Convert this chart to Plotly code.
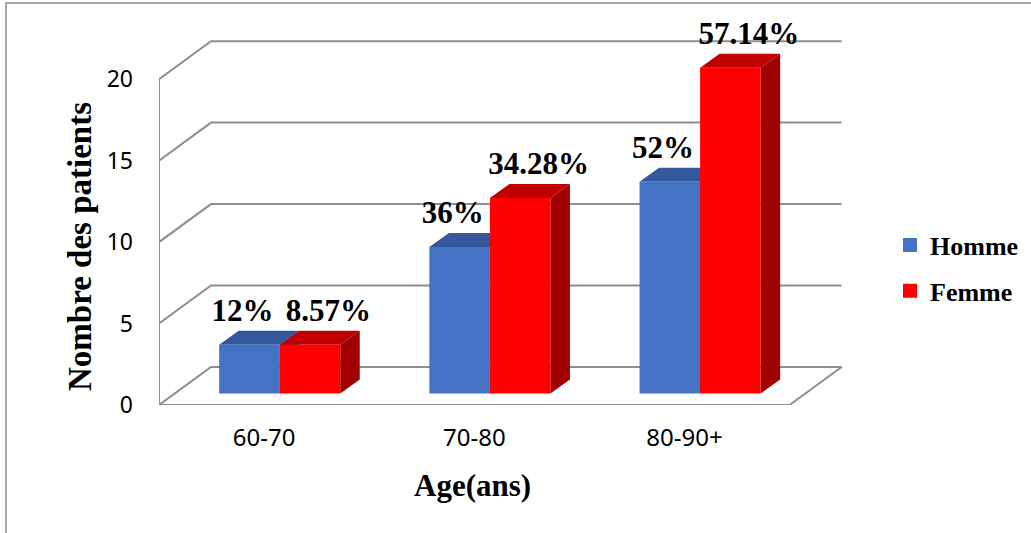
import plotly.graph_objects as go

# Age groups and patient counts per sex
categories = ["60-70", "70-80", "80-90+"]
homme = [3, 9, 13]
femme = [3, 12, 20]
homme_pct = ["12%", "36%", "52%"]
femme_pct = ["8.57%", "34.28%", "57.14%"]
y_ticks = [0, 5, 10, 15, 20]

# Pseudo-3D geometry (in axis units)
WALL_DX, WALL_DY = 0.2474, 2.333      # depth of the back wall
BAR_FX, BAR_FY = 0.0742, 0.70         # front plane of the bars
BAR_DX, BAR_DY = 0.0928, 0.859        # depth of each bar
BAR_W = 0.288
n = len(categories)

# plot area in pixels
W, H = 1031, 533
ML, MR, MT, MB = 159, 0, 14, 128
PX_PER_X = 210.2
PLOT_W = W - ML - MR
PLOT_H = H - MT - MB


def px(xp):
    return (xp - ML) / PLOT_W


def py(yp):
    return (H - MB - yp) / PLOT_H


GRID = "#8E8E8E"
COLORS = {
    "Homme": {"front": "#4472C4", "top": "#34589C", "side": "#2F4F8A"},
    "Femme": {"front": "#FF0000", "top": "#C00000", "side": "#A00000"},
}

fig = go.Figure()

# back wall gridlines with the oblique return to the value axis
for t in y_ticks[1:]:
    fig.add_trace(go.Scatter(
        x=[0, WALL_DX, n + WALL_DX], y=[t, t + WALL_DY, t + WALL_DY],
        mode="lines", line=dict(color=GRID, width=2),
        hoverinfo="skip", showlegend=False))
# floor
fig.add_trace(go.Scatter(
    x=[0, n, n + WALL_DX, WALL_DX, 0], y=[0, 0, WALL_DY, WALL_DY, 0],
    mode="lines", line=dict(color=GRID, width=2),
    hoverinfo="skip", showlegend=False))
# value axis line
fig.add_trace(go.Scatter(
    x=[0, 0], y=[y_ticks[0], y_ticks[-1]],
    mode="lines", line=dict(color=GRID, width=2),
    hoverinfo="skip", showlegend=False))


def faces(values, slot):
    front, top, side = [], [], []
    for i, v in enumerate(values):
        x0 = i + 0.5 + BAR_FX + (slot - 1) * BAR_W
        x1 = x0 + BAR_W
        y0, y1 = BAR_FY, BAR_FY + v
        front.append(([x0, x1, x1, x0, x0], [y0, y0, y1, y1, y0]))
        top.append(([x0, x1, x1 + BAR_DX, x0 + BAR_DX, x0],
                    [y1, y1, y1 + BAR_DY, y1 + BAR_DY, y1]))
        side.append(([x1, x1 + BAR_DX, x1 + BAR_DX, x1, x1],
                     [y0, y0 + BAR_DY, y1 + BAR_DY, y1, y0]))
    return {"front": front, "top": top, "side": side}


def joined(polys):
    xs, ys = [], []
    for pxs, pys in polys:
        xs += pxs + [None]
        ys += pys + [None]
    return xs, ys


for slot, (name, vals) in enumerate([("Homme", homme), ("Femme", femme)]):
    f = faces(vals, slot)
    for face in ["side", "top", "front"]:
        xs, ys = joined(f[face])
        fig.add_trace(go.Scatter(
            x=xs, y=ys, mode="lines", fill="toself",
            fillcolor=COLORS[name][face], line=dict(width=0, color=COLORS[name][face]),
            hoverinfo="skip", showlegend=False))

# percentage labels above each bar
for slot, (vals, pct, shift) in enumerate([(homme, homme_pct, -0.033),
                                           (femme, femme_pct, 0.088)]):
    xs = [i + 0.5 + BAR_FX + (slot - 0.5) * BAR_W + shift for i in range(n)]
    ys = [BAR_FY + v + BAR_DY + 0.15 for v in vals]
    fig.add_trace(go.Scatter(
        x=xs, y=ys, mode="text", text=[f"<b>{t}</b>" for t in pct],
        textposition="top center",
        textfont=dict(family="Liberation Serif", size=31, color="#000000"),
        hoverinfo="skip", showlegend=False, cliponaxis=False))

# legend entries
for name in ["Homme", "Femme"]:
    fig.add_trace(go.Scatter(
        x=[None], y=[None], mode="markers", name=f"<b>{name}</b>", legendgroup=name,
        marker=dict(symbol="square", size=14, color=COLORS[name]["front"])))

fig.update_layout(
    width=W, height=H,
    margin=dict(l=ML, r=MR, t=MT, b=MB),
    paper_bgcolor="white", plot_bgcolor="white",
    showlegend=True,
    legend=dict(x=px(1024), y=py(268), xanchor="right", yanchor="middle",
                traceorder="grouped", tracegroupgap=9,
                font=dict(family="Liberation Serif", size=26, color="#000000"),
                bgcolor="rgba(0,0,0,0)"),
    xaxis=dict(range=[0, PLOT_W / PX_PER_X], tickvals=[i + 0.5 for i in range(n)],
               ticktext=categories, showgrid=False, zeroline=False,
               showline=False, ticks="", ticklabelstandoff=16,
               tickfont=dict(family="Noto Sans", size=24, color="#000000"),
               fixedrange=True),
    yaxis=dict(range=[0, 24], tickvals=y_ticks, showgrid=False,
               zeroline=False, showline=False, ticks="", ticklabelstandoff=25,
               tickfont=dict(family="Noto Sans", size=23, color="#000000"),
               fixedrange=True),
    annotations=[
        dict(text="<b>Nombre des patients</b>", textangle=-90,
             xref="paper", yref="paper", x=px(80), y=py(247),
             xanchor="center", yanchor="middle", showarrow=False,
             font=dict(family="Liberation Serif", size=33, color="#000000")),
        dict(text="<b>Age(ans)</b>",
             xref="paper", yref="paper", x=px(472), y=py(486),
             xanchor="center", yanchor="middle", showarrow=False,
             font=dict(family="Liberation Serif", size=31, color="#000000")),
    ],
    shapes=[dict(type="rect", xref="paper", yref="paper",
                 x0=px(6), x1=px(1060), y0=py(560), y1=py(3),
                 line=dict(color="#A6A6A6", width=2), fillcolor="rgba(0,0,0,0)",
                 layer="below")],
)

fig.write_html("out.html")
